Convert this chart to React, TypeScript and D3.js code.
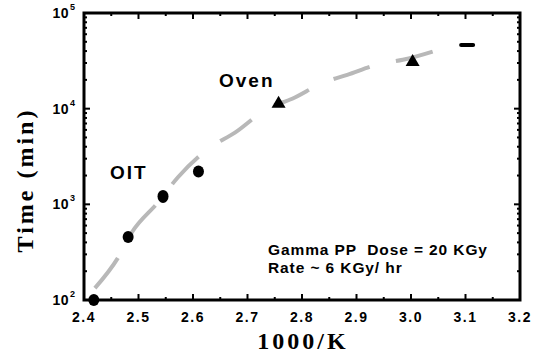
import React from "react";
import * as d3 from "d3";

// OIT measurements (circles)
const oitX = [2.418, 2.481, 2.545, 2.61];
const oitY = [100, 455, 1210, 2210];
// Oven measurements (triangles, last one smeared into a dash)
const ovenX = [2.757, 3.003, 3.103];
const ovenY = [11500, 31500, 46400];
// fitted curve
const fitX = [2.42, 2.462, 2.488, 2.536, 2.572, 2.631, 2.677, 2.736, 2.782, 2.839, 2.883, 2.943, 2.985, 3.044];
const fitY = [133, 274, 511, 1050, 1910, 3920, 5620, 10000, 12700, 18700, 22600, 29400, 32400, 40200];

const xTicks = [2.4, 2.5, 2.6, 2.7, 2.8, 2.9, 3.0, 3.1, 3.2];
const yDecades = [2, 3, 4, 5];

const W = 540, H = 353;
const left = 84, right = 520, top = 13, bottom = 300;

export default function App() {
  const x = d3.scaleLinear().domain([2.4, 3.2]).range([left, right]);
  const y = d3.scaleLog().domain([100, 100000]).range([bottom, top]);

  const line = d3.line<number>()
    .x((_, i) => x(fitX[i]))
    .y(d => y(d))
    .curve(d3.curveMonotoneX);

  const minorX = d3.range(2.45, 3.2, 0.1);
  const minorY: number[] = [];
  yDecades.slice(0, 3).forEach(e => {
    for (let m = 2; m < 10; m++) minorY.push(m * Math.pow(10, e));
  });

  const sans = "'Liberation Sans', Arial, sans-serif";
  const serif = "'Liberation Serif', 'Times New Roman', serif";

  return (
    <svg width={W} height={H} style={{ position: "absolute", left: 0, top: 0, background: "#fff" }}>
      {/* fitted curve */}
      <path d={line(fitY) || ""} fill="none" stroke="#b8b8b8" strokeWidth={4}
        strokeDasharray="38 27" />

      {/* frame */}
      <rect x={left} y={top} width={right - left} height={bottom - top}
        fill="none" stroke="#000" strokeWidth={3} />

      {/* x ticks bottom/top */}
      {xTicks.map(t => (
        <g key={"xt" + t}>
          <line x1={x(t)} x2={x(t)} y1={bottom} y2={bottom - 6} stroke="#000" strokeWidth={2} />
          <line x1={x(t)} x2={x(t)} y1={top} y2={top + 6} stroke="#000" strokeWidth={2} />
          <text x={x(t)} y={322} textAnchor="middle" fontFamily={sans} fontWeight="bold"
            fontSize={14} letterSpacing={1.5}>{t.toFixed(1)}</text>
        </g>
      ))}
      {minorX.map(t => (
        <g key={"xm" + t}>
          <line x1={x(t)} x2={x(t)} y1={bottom} y2={bottom - 3} stroke="#000" strokeWidth={2} />
          <line x1={x(t)} x2={x(t)} y1={top} y2={top + 3} stroke="#000" strokeWidth={2} />
        </g>
      ))}

      {/* y ticks left/right */}
      {yDecades.map(e => {
        const v = Math.pow(10, e);
        return (
          <g key={"yd" + e}>
            <line x1={left} x2={left + 6} y1={y(v)} y2={y(v)} stroke="#000" strokeWidth={2} />
            <line x1={right} x2={right - 6} y1={y(v)} y2={y(v)} stroke="#000" strokeWidth={2} />
            <text x={69} y={y(v) + 5} textAnchor="end" fontFamily={sans} fontWeight="bold" fontSize={14}
              letterSpacing={0.5}>10</text>
            <text x={70} y={y(v) - 3} textAnchor="start" fontFamily={sans} fontWeight="bold" fontSize={9}>{e}</text>
          </g>
        );
      })}
      {minorY.map(v => (
        <g key={"ym" + v}>
          <line x1={left} x2={left + 3} y1={y(v)} y2={y(v)} stroke="#000" strokeWidth={2} />
          <line x1={right} x2={right - 3} y1={y(v)} y2={y(v)} stroke="#000" strokeWidth={2} />
        </g>
      ))}

      {/* OIT circles */}
      {oitX.map((v, i) => (
        <ellipse key={"o" + i} cx={x(v)} cy={y(oitY[i])} rx={5.5} ry={i === 2 ? 6.5 : 6} fill="#000" />
      ))}
      {/* Oven triangles */}
      {ovenX.map((v, i) => {
        const cx = x(v), cy = y(ovenY[i]);
        if (i === ovenX.length - 1) {
          return <rect key={"v" + i} x={cx - 8} y={cy - 2} width={16} height={4} rx={2} fill="#000" />;
        }
        return (
          <path key={"v" + i} fill="#000"
            d={`M${cx},${cy - 7} L${cx + 7},${cy + 5} L${cx - 7},${cy + 5} Z`} />
        );
      })}

      {/* annotations */}
      <text x={110} y={179} fontFamily={sans} fontWeight="bold" fontSize={19} letterSpacing={2}>OIT</text>
      <text x={219} y={87} fontFamily={sans} fontWeight="bold" fontSize={19} letterSpacing={2}>Oven</text>
      <text x={268} y={255} fontFamily={sans} fontWeight="bold" fontSize={15.5} letterSpacing={0.9}
        style={{ whiteSpace: "pre" }}>{"Gamma PP  Dose = 20 KGy"}</text>
      <text x={268} y={272.5} fontFamily={sans} fontWeight="bold" fontSize={15.5}
        letterSpacing={0.9}>Rate ~ 6 KGy/ hr</text>

      {/* axis titles */}
      <text x={303} y={349} textAnchor="middle" fontFamily={serif} fontWeight="bold" fontSize={24}
        letterSpacing={3}>1000/K</text>
      <text transform={`translate(33,180) rotate(-90)`} textAnchor="middle"
        fontFamily={serif} fontWeight="bold" fontSize={24} letterSpacing={3}>Time (min)</text>
    </svg>
  );
}
